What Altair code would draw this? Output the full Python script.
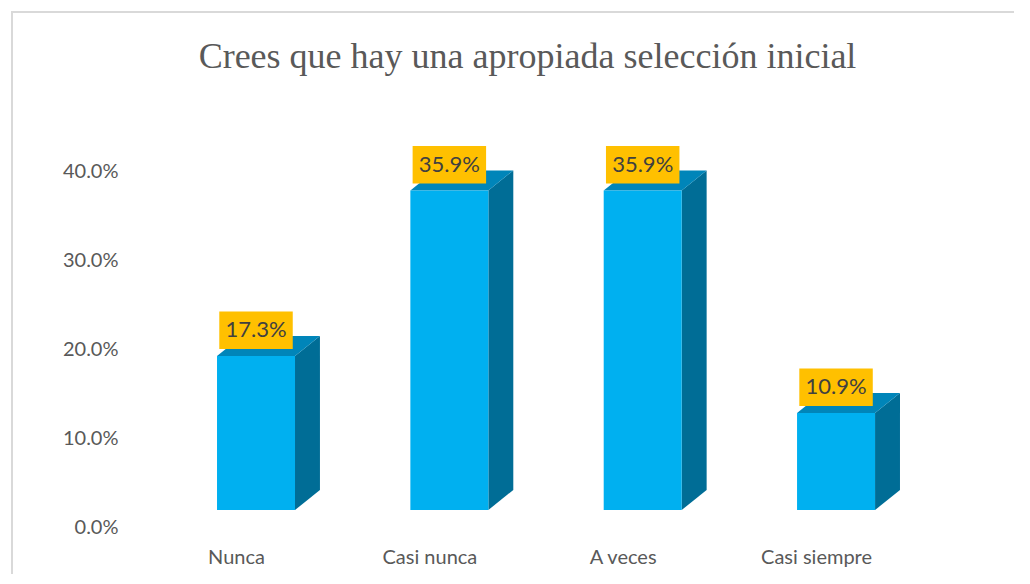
import altair as alt
import pandas as pd

categories = ["Nunca", "Casi nunca", "A veces", "Casi siempre"]
percent_values = [17.3, 35.9, 35.9, 10.9]
y_ticks = [0.0, 0.1, 0.2, 0.3, 0.4]
title_text = "Crees que hay una apropiada selección inicial"

# 3D styling constants (in scale units)
HALF = 0.2017      # half width of bar front face
DX = 0.129         # depth offset in x
DY = 0.0225        # depth offset in y
BOX_HALF = 0.19
BOX_LO = 0.0079
BOX_HI = 0.050

front_rows, side_rows, top_rows, lab_rows = [], [], [], []
for i, (c, p) in enumerate(zip(categories, percent_values)):
    v = p / 100.0
    front_rows.append({"cat": c, "x": i - HALF, "x2": i + HALF, "y": v, "y0": 0.0})
    side_rows.append({"cat": c, "x": i + HALF, "lo": 0.0, "hi": v})
    side_rows.append({"cat": c, "x": i + HALF + DX, "lo": DY, "hi": v + DY})
    top_rows.append({"cat": c, "y": v, "xl": i - HALF, "xr": i + HALF})
    top_rows.append({"cat": c, "y": v + DY, "xl": i - HALF + DX, "xr": i + HALF + DX})
    lab_rows.append({"cat": c, "x": i - BOX_HALF, "x2": i + BOX_HALF, "xc": float(i),
                     "b0": v + BOX_LO, "b1": v + BOX_HI, "ym": v + (BOX_LO + BOX_HI) / 2,
                     "label": f"{p:.1f}%"})

front = pd.DataFrame(front_rows)
side = pd.DataFrame(side_rows)
top = pd.DataFrame(top_rows)
labs = pd.DataFrame(lab_rows)

xscale = alt.Scale(domain=[-0.7035, 3.848], nice=False, zero=False)
yscale = alt.Scale(domain=[0, 0.4], nice=False)

label_expr = "[" + ",".join(f"'{c}'" for c in categories) + "][datum.value]"

x_axis = alt.Axis(values=[0, 1, 2, 3], labelExpr=label_expr, ticks=False, domain=False,
                  grid=False, title=None, labelOffset=-20, labelPadding=37,
                  labelFont="Lato", labelFontSize=20, labelColor="#595959", labelFlush=False)
y_axis = alt.Axis(values=y_ticks, format=".1%", ticks=False, domain=False, grid=False,
                  title=None, labelOffset=17, labelPadding=2, labelFont="Lato",
                  labelFontSize=20, labelColor="#595959")

single = pd.DataFrame({"t": [title_text]})

border = alt.Chart(single).mark_rect(
    fill=None, stroke="#D9D9D9", strokeWidth=2
).encode(x=alt.value(-108), x2=alt.value(1000), y=alt.value(-142), y2=alt.value(600))

title_layer = alt.Chart(single).mark_text(
    font="Liberation Serif", fontSize=36, color="#595959", align="center", baseline="alphabetic"
).encode(x=alt.value(407.5), y=alt.value(-86), text="t:N")

front_layer = alt.Chart(front).mark_rect(color="#00B0F0").encode(
    x=alt.X("x:Q", scale=xscale, axis=x_axis),
    x2="x2:Q",
    y=alt.Y("y:Q", scale=yscale, axis=y_axis),
    y2="y0:Q",
)

side_layer = alt.Chart(side).mark_area(color="#006D96", interpolate="linear").encode(
    x=alt.X("x:Q", scale=xscale),
    y=alt.Y("lo:Q", scale=yscale, stack=None),
    y2="hi:Q",
    detail="cat:N",
)

top_layer = alt.Chart(top).mark_area(color="#0085B9", orient="horizontal", interpolate="linear").encode(
    y=alt.Y("y:Q", scale=yscale),
    x=alt.X("xl:Q", scale=xscale, stack=None),
    x2="xr:Q",
    detail="cat:N",
)

box_layer = alt.Chart(labs).mark_rect(color="#FFC000").encode(
    x=alt.X("x:Q", scale=xscale), x2="x2:Q",
    y=alt.Y("b0:Q", scale=yscale), y2="b1:Q",
)

text_layer = alt.Chart(labs).mark_text(
    font="Lato", fontSize=22, color="#404040", baseline="middle", align="center"
).encode(
    x=alt.X("xc:Q", scale=xscale),
    y=alt.Y("ym:Q", scale=yscale),
    text="label:N",
)

chart = alt.layer(
    border, title_layer, side_layer, top_layer, front_layer, box_layer, text_layer
).properties(
    width=880, height=356,
    background="white",
    autosize=alt.AutoSizeParams(type="none"),
    padding={"left": 112, "top": 146, "right": 14, "bottom": 64},
).configure_view(strokeOpacity=0, strokeWidth=0)

chart.save("out.html", embed_options={"renderer": "svg", "actions": False})
